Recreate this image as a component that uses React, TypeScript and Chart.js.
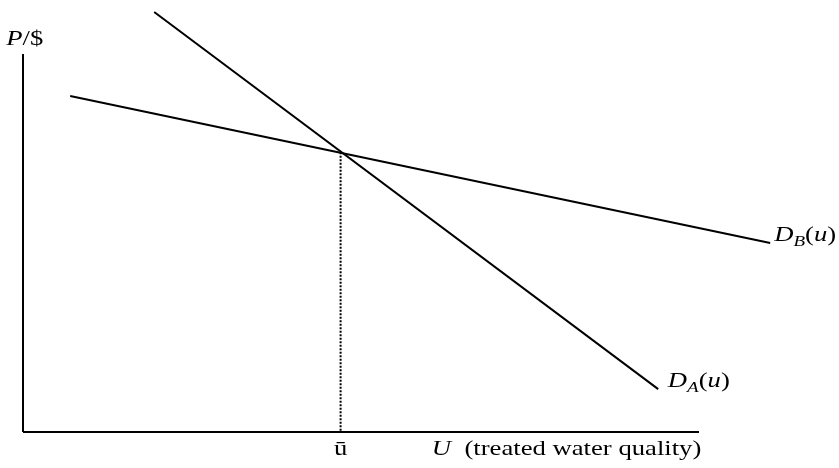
import React, { useEffect, useRef } from "react";
import { Chart, registerables } from "chart.js";

Chart.register(...registerables);

// Demand curves (u = treated water quality, p = price)
const demandAQuality = [1.64, 7.94];
const demandAPrice = [10, 1.02];
const demandBQuality = [0.59, 9.34];
const demandBPrice = [8.0, 4.5];
// Equilibrium quality ū and the price where the curves cross
const uBar = 3.97;
const pCross = 6.66;
// Axis extents
const quantityAxisEnd = 8.45;
const priceAxisEnd = 9.0;

type Piece = { t: string; italic?: boolean; sub?: boolean };
type Label = { u: number; p: number; pieces: Piece[]; align?: "left" | "center" };

const labels: Label[] = [
  { u: -0.21, p: 9.21, pieces: [{ t: "P", italic: true }, { t: "/$" }] },
  { u: uBar, p: -0.55, pieces: [{ t: "ū" }], align: "center" },
  { u: 5.11, p: -0.55, pieces: [{ t: "U", italic: true }, { t: "  (treated water quality)" }] },
  {
    u: 9.39,
    p: 4.55,
    pieces: [{ t: "D", italic: true }, { t: "B", italic: true, sub: true }, { t: "(" }, { t: "u", italic: true }, { t: ")" }],
  },
  {
    u: 8.06,
    p: 1.07,
    pieces: [{ t: "D", italic: true }, { t: "A", italic: true, sub: true }, { t: "(" }, { t: "u", italic: true }, { t: ")" }],
  },
];

const FONT = '"Liberation Serif", "Times New Roman", serif';
const STRETCH = 1.27;

const labelPlugin = {
  id: "richLabels",
  afterDraw(chart: any) {
    const ctx = chart.ctx as CanvasRenderingContext2D;
    const xs = chart.scales.x;
    const ys = chart.scales.y;
    ctx.save();
    ctx.fillStyle = "#000";
    ctx.textBaseline = "alphabetic";
    for (const lab of labels) {
      const fontFor = (pc: Piece) => `${pc.italic ? "italic " : ""}${pc.sub ? 15 : 21}px ${FONT}`;
      let w = 0;
      for (const pc of lab.pieces) {
        ctx.font = fontFor(pc);
        w += ctx.measureText(pc.t).width;
      }
      const px = xs.getPixelForValue(lab.u);
      const py = ys.getPixelForValue(lab.p);
      ctx.save();
      ctx.translate(px, py);
      ctx.scale(STRETCH, 1);
      let x = lab.align === "center" ? -w / 2 : 0;
      for (const pc of lab.pieces) {
        ctx.font = fontFor(pc);
        ctx.fillText(pc.t, x, pc.sub ? 5 : 0);
        x += ctx.measureText(pc.t).width;
      }
      ctx.restore();
    }
    ctx.restore();
  },
};

export default function App() {
  const ref = useRef<HTMLCanvasElement | null>(null);
  useEffect(() => {
    document.body.style.margin = "0";
    if (!ref.current) return;
    const line = (d: { x: number; y: number }[], extra: any = {}) => ({
      data: d,
      showLine: true,
      borderColor: "#000",
      borderWidth: 2,
      pointRadius: 0,
      clip: false,
      ...extra,
    });
    const chart = new Chart(ref.current, {
      type: "scatter",
      data: {
        datasets: [
          line([{ x: 0, y: 0 }, { x: quantityAxisEnd, y: 0 }]),
          line([{ x: 0, y: 0 }, { x: 0, y: priceAxisEnd }]),
          line(demandAQuality.map((u, i) => ({ x: u, y: demandAPrice[i] }))),
          line(demandBQuality.map((u, i) => ({ x: u, y: demandBPrice[i] }))),
          line([{ x: uBar, y: pCross }, { x: uBar, y: 0 }], { borderDash: [2, 1.5] }),
        ],
      },
      options: {
        responsive: false,
        animation: false,
        layout: { padding: { left: 23, right: 16, top: 12, bottom: 36 } },
        plugins: { legend: { display: false }, tooltip: { enabled: false } },
        scales: {
          x: { type: "linear", min: 0, max: 10, display: false },
          y: { type: "linear", min: 0, max: 10, display: false },
        },
      },
      plugins: [labelPlugin],
    });
    return () => chart.destroy();
  }, []);
  return (
    <div style={{ position: "fixed", left: 0, top: 0, width: 839, height: 468, background: "#fff" }}>
      <canvas ref={ref} width={839} height={468} />
    </div>
  );
}
